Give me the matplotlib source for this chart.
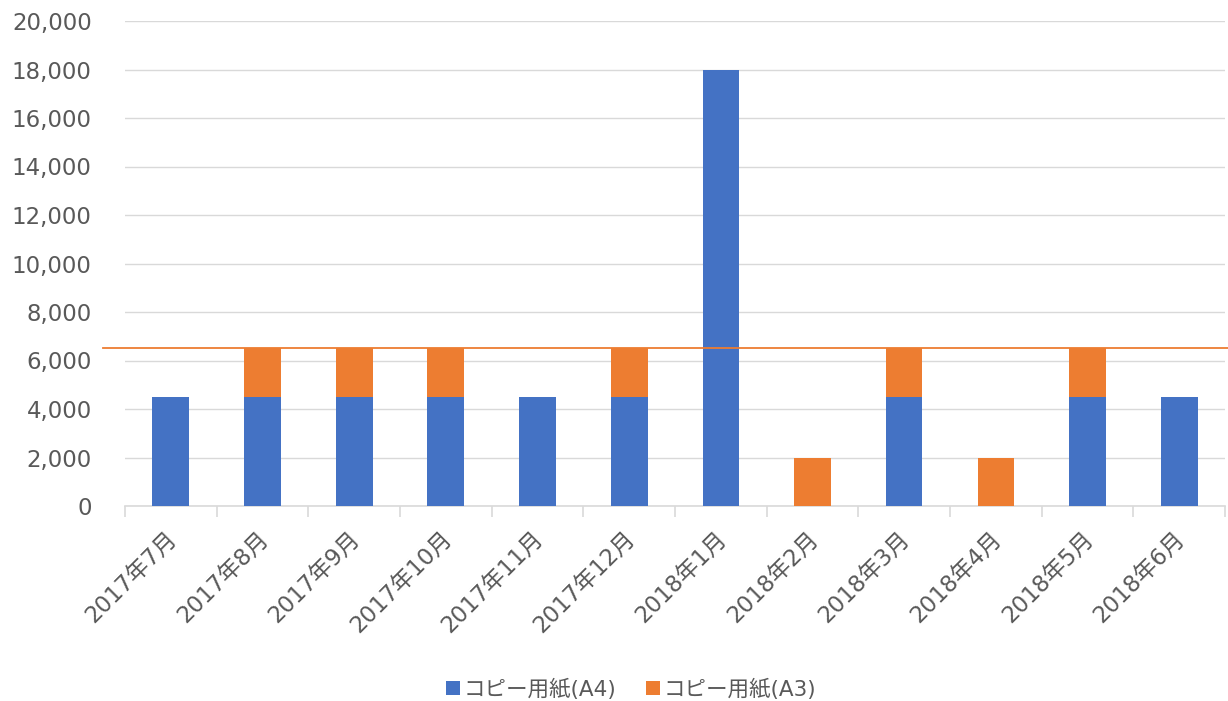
import matplotlib
matplotlib.use('Agg')
import matplotlib.pyplot as plt
import matplotlib.transforms as mtransforms
from matplotlib.ticker import FuncFormatter, FixedLocator

plt.rcParams['font.family'] = ['DejaVu Sans', 'Noto Sans CJK JP']

months = ['2017年7月', '2017年8月', '2017年9月', '2017年10月', '2017年11月', '2017年12月',
          '2018年1月', '2018年2月', '2018年3月', '2018年4月', '2018年5月', '2018年6月']
a4 = [4500, 4500, 4500, 4500, 4500, 4500, 18000, 0, 4500, 0, 4500, 4500]
a3 = [0, 2000, 2000, 2000, 0, 2000, 0, 2000, 2000, 2000, 2000, 0]
threshold = 6500
series_names = ['コピー用紙(A4)', 'コピー用紙(A3)']

blue = '#4472C4'
orange = '#ED7D31'
text_gray = '#595959'
grid_gray = '#D9D9D9'

fig = plt.figure(figsize=(12.28, 7.01), dpi=100)
ax = fig.add_axes([125 / 1228, 1 - 506 / 701, 1100 / 1228, 485 / 701])

x = list(range(len(months)))
ax.bar(x, a4, width=0.4, color=blue, label=series_names[0], zorder=3)
ax.bar(x, a3, width=0.4, bottom=a4, color=orange, label=series_names[1], zorder=3)

# reference line running past both edges of the plot area
trans = mtransforms.blended_transform_factory(ax.transAxes, ax.transData)
ax.plot([-0.02, 1.01], [threshold, threshold], color=orange, lw=1.3,
        transform=trans, clip_on=False, zorder=4)

ax.set_xlim(-0.5, len(months) - 0.5)
ax.set_ylim(0, 20000)
ax.set_yticks(range(0, 20001, 2000))
ax.yaxis.set_major_formatter(FuncFormatter(lambda v, p: f'{int(v):,}'))
ax.grid(axis='y', color=grid_gray, lw=1, zorder=0)

ax.set_xticks(x)
ax.set_xticklabels(months, rotation=45, ha='right', rotation_mode='anchor')
ax.tick_params(axis='x', length=0, pad=15, labelsize=16.5, labelcolor=text_gray)
ax.tick_params(axis='y', length=0, pad=24, labelsize=16.5, labelcolor=text_gray)
shift = mtransforms.ScaledTranslation(-6 / 100, 0, fig.dpi_scale_trans)
for lbl in ax.get_xticklabels():
    lbl.set_transform(lbl.get_transform() + shift)
ax.xaxis.set_minor_locator(FixedLocator([i - 0.5 for i in range(len(months) + 1)]))
ax.tick_params(axis='x', which='minor', length=8, color=grid_gray, width=1.2)

for s in ['top', 'right', 'left']:
    ax.spines[s].set_visible(False)
ax.spines['bottom'].set_color(grid_gray)
ax.spines['bottom'].set_linewidth(1.2)

fig.legend(loc='center', bbox_to_anchor=(0.514, 1 - 689 / 701), ncol=2, frameon=False,
           fontsize=15.5, labelcolor=text_gray, handlelength=0.65, handleheight=0.65,
           handletextpad=0.15, columnspacing=1.4)

fig.savefig('out.png', dpi=100)
